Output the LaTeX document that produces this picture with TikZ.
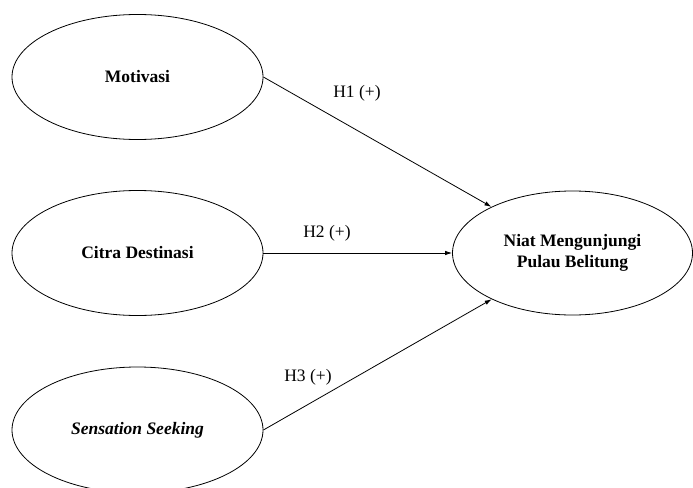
\documentclass[tikz,border=0pt]{standalone}
\usepackage{fontspec}
\setmainfont{Liberation Serif}
\usetikzlibrary{shapes.geometric,arrows.meta}
\begin{document}
\begin{tikzpicture}[x=1pt,y=-1pt,
  latent/.style={draw, ellipse, line width=0.8pt, minimum width=251pt, minimum height=125pt, inner sep=0pt, font=\fontsize{17.5}{21}\selectfont\bfseries, align=center},
  relarrow/.style={-{Latex[length=7pt,width=4.5pt]}, line width=0.8pt},
  hyp/.style={font=\fontsize{17.5}{21}\selectfont, inner sep=0pt}]
\useasboundingbox (0,0) rectangle (693,487);
\clip (0,0) rectangle (693,487);
\fill[white] (0,0) rectangle (693,487);
\node[latent] (mot) at (137.5,77) {Motivasi};
\node[latent] (cit) at (137.5,253) {Citra Destinasi};
\node[latent, minimum height=126pt] (sen) at (137.5,430) {\itshape Sensation Seeking};
\node[latent, minimum width=240pt, minimum height=124pt] (niat) at (572.5,253) {Niat Mengunjungi\\Pulau Belitung};
\draw[relarrow] (mot.east) -- (niat);
\draw[relarrow] (cit.east) -- (niat.west);
\draw[relarrow] (sen.east) -- (niat);
\node[hyp] (h1) at (357,93) {H1 (+)};
\node[hyp] (h2) at (327,233) {H2 (+)};
\node[hyp] (h3) at (308,377) {H3 (+)};
\end{tikzpicture}
\end{document}
